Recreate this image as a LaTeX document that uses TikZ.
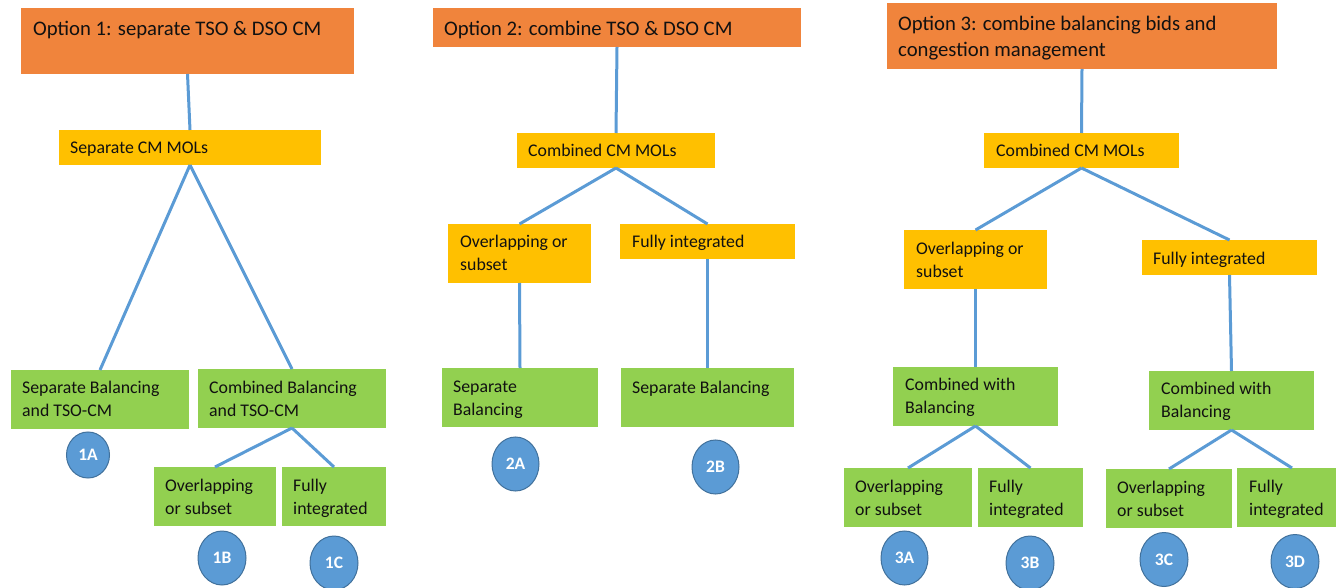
\documentclass[tikz,border=0pt]{standalone}
\usepackage{fontspec}
\setmainfont{Carlito}
\usetikzlibrary{shapes.geometric}
\definecolor{orng}{HTML}{F0843C}
\definecolor{yllw}{HTML}{FFC000}
\definecolor{grn}{HTML}{92D050}
\definecolor{lblue}{HTML}{5B9BD5}
\definecolor{dblue}{HTML}{41719C}
\definecolor{txt}{HTML}{111111}
\newcommand\mybox[6]{\node[#1, minimum width={#5-#3}, minimum height={#6-#4}] (#2) at ({(#3+#5)/2},{(#4+#6)/2}) {};}
\begin{document}
\begin{tikzpicture}[x=1pt,y=-1pt,
  bx/.style={rectangle, draw=none, inner sep=0pt, outer sep=0pt},
  ob/.style={bx, fill=orng},
  yb/.style={bx, fill=yllw},
  gb/.style={bx, fill=grn},
  tt/.style={anchor=north west, inner sep=0pt, text=txt, align=left, font=\fontsize{20.7}{26}\selectfont},
  tx/.style={anchor=north west, inner sep=0pt, text=txt, align=left, font=\fontsize{17.8}{22.7}\selectfont},
  conn/.style={draw=lblue, line width=3pt},
  circ/.style={ellipse, fill=lblue, draw=dblue, line width=1pt, inner sep=0pt, text=white, font=\bfseries\fontsize{17.5}{20}\selectfont},
]
\useasboundingbox (0,0) rectangle (1336,588);
\clip (0,0) rectangle (1336,588);
% ---- Option 1
\mybox{ob}{o1}{21}{8}{354}{74}
\mybox{yb}{m1}{59}{130}{321}{165}
\mybox{gb}{a1}{11}{370}{189}{429}
\mybox{gb}{b1}{198}{369}{386}{428}
\mybox{gb}{b1l}{154}{467}{276}{526}
\mybox{gb}{b1r}{282}{467}{386}{526}
% ---- Option 2
\mybox{ob}{o2}{433}{8}{801}{47}
\mybox{yb}{m2}{517}{133}{715}{168}
\mybox{yb}{y2l}{448}{224}{591}{283}
\mybox{yb}{y2r}{620}{224}{795}{259}
\mybox{gb}{g2l}{442}{368}{598}{427}
\mybox{gb}{g2r}{621}{368}{794}{427}
% ---- Option 3
\mybox{ob}{o3}{887}{3}{1277}{69}
\mybox{yb}{m3}{984}{133}{1179}{168}
\mybox{yb}{y3l}{904}{230}{1047}{289}
\mybox{yb}{y3r}{1142}{240}{1317}{275}
\mybox{gb}{g3l}{893}{367}{1058}{426}
\mybox{gb}{g3r}{1149}{371}{1314}{430}
\mybox{gb}{g3a}{844}{468}{972}{527}
\mybox{gb}{g3b}{978}{468}{1083}{527}
\mybox{gb}{g3c}{1106}{469}{1232}{528}
\mybox{gb}{g3d}{1237}{468}{1347}{527}
% ---- connectors
\draw[conn] (o1.south) -- (m1.north);
\draw[conn] (m1.south) -- (a1.north);
\draw[conn] (m1.south) -- (b1.north);
\draw[conn] (b1.south) -- (b1l.north);
\draw[conn] (b1.south) -- (b1r.north);
\draw[conn] (o2.south) -- (m2.north);
\draw[conn] (m2.south) -- (y2l.north);
\draw[conn] (m2.south) -- (y2r.north);
\draw[conn] (y2l.south) -- (g2l.north);
\draw[conn] (y2r.south) -- (g2r.north);
\draw[conn] (o3.south) -- (m3.north);
\draw[conn] (m3.south) -- (y3l.north);
\draw[conn] (m3.south) -- (y3r.north);
\draw[conn] (y3l.south) -- (g3l.north);
\draw[conn] (y3r.south) -- (g3r.north);
\draw[conn] (g3l.south) -- (g3a.north);
\draw[conn] (g3l.south) -- (g3b.north);
\draw[conn] (g3r.south) -- (g3c.north);
\draw[conn] (g3r.south) -- (g3d.north);
% ---- texts
\node[tt] (o1t) at (33,21) {Option 1: separate TSO \& DSO CM};
\node[tx] (m1t) at (70,142) {Separate CM MOLs};
\node[tx] (a1t) at (22,381) {Separate Balancing\\and TSO-CM};
\node[tx] (b1t) at (209,381) {Combined Balancing\\and TSO-CM};
\node[tx] (b1lt) at (165,479) {Overlapping\\or subset};
\node[tx] (b1rt) at (293,479) {Fully\\integrated};
\node[tt] (o2t) at (444,21) {Option 2: combine TSO \& DSO CM};
\node[tx] (m2t) at (528,144) {Combined CM MOLs};
\node[tx] (y2lt) at (460,235) {Overlapping or\\subset};
\node[tx] (y2rt) at (632,235) {Fully integrated};
\node[tx] (g2lt) at (453,381) {Separate\\Balancing};
\node[tx] (g2rt) at (632,381) {Separate Balancing};
\node[tt] (o3t) at (898,16) {Option 3: combine balancing bids and\\congestion management};
\node[tx] (m3t) at (996,144) {Combined CM MOLs};
\node[tx] (y3lt) at (916,242) {Overlapping or\\subset};
\node[tx] (y3rt) at (1153,252) {Fully integrated};
\node[tx] (g3lt) at (905,378) {Combined with\\Balancing};
\node[tx] (g3rt) at (1161,382) {Combined with\\Balancing};
\node[tx] (g3at) at (855,480) {Overlapping\\or subset};
\node[tx] (g3bt) at (989,480) {Fully\\integrated};
\node[tx] (g3ct) at (1117,481) {Overlapping\\or subset};
\node[tx] (g3dt) at (1249,480) {Fully\\integrated};
% ---- circles
\node[circ, minimum width=43pt, minimum height=46pt] (c1a) at (88,455) {1A};
\node[circ, minimum width=48pt, minimum height=54pt] (c1b) at (222,558) {1B};
\node[circ, minimum width=48pt, minimum height=54pt] (c1c) at (334,563) {1C};
\node[circ, minimum width=47pt, minimum height=54pt] (c2a) at (515.5,464) {2A};
\node[circ, minimum width=47pt, minimum height=54pt] (c2b) at (715.5,467) {2B};
\node[circ, minimum width=47pt, minimum height=54pt] (c3a) at (904.5,558) {3A};
\node[circ, minimum width=48pt, minimum height=54pt] (c3b) at (1030,563) {3B};
\node[circ, minimum width=48pt, minimum height=54pt] (c3c) at (1164,559.5) {3C};
\node[circ, minimum width=48pt, minimum height=54pt] (c3d) at (1295,561.5) {3D};
\end{tikzpicture}
\end{document}
